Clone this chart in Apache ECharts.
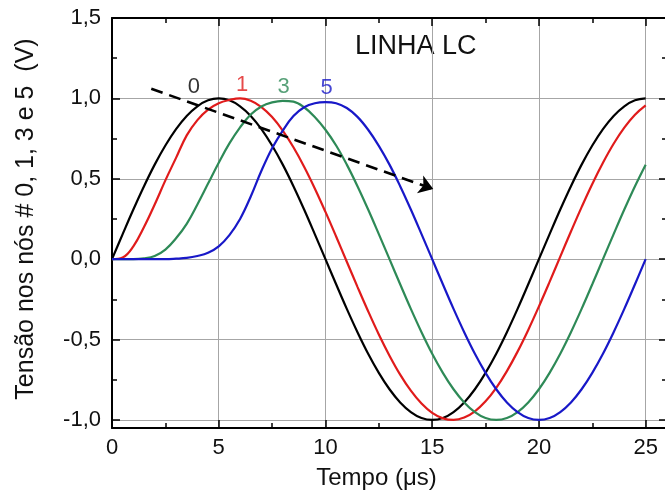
<!DOCTYPE html>
<html>
<head>
<meta charset="utf-8">
<script src="https://cdn.jsdelivr.net/npm/echarts@6/dist/echarts.min.js"></script>
<style>
  html, body { margin: 0; padding: 0; background: #ffffff; overflow: hidden; }
  #chart { width: 665px; height: 497px; }
</style>
</head>
<body>
<div id="chart"></div>
<script>
// Time samples (µs)
const timeUs = [
  0, 0.5, 1, 1.5, 2, 2.5, 3, 3.5, 4, 4.5, 5,
  5.5, 6, 6.5, 7, 7.5, 8, 8.5, 9, 9.5, 10,
  10.5, 11, 11.5, 12, 12.5, 13, 13.5, 14, 14.5, 15,
  15.5, 16, 16.5, 17, 17.5, 18, 18.5, 19, 19.5, 20,
  20.5, 21, 21.5, 22, 22.5, 23, 23.5, 24, 24.5, 25
];

// Node voltages (V) along the LC line
const node0 = [
  0, 0.156, 0.309, 0.454, 0.588, 0.707, 0.809, 0.891, 0.951, 0.988, 1.0,
  0.988, 0.951, 0.891, 0.809, 0.707, 0.588, 0.454, 0.309, 0.156, 0,
  -0.156, -0.309, -0.454, -0.588, -0.707, -0.809, -0.891, -0.951, -0.988, -1.0,
  -0.988, -0.951, -0.891, -0.809, -0.707, -0.588, -0.454, -0.309, -0.156, 0,
  0.156, 0.309, 0.454, 0.588, 0.707, 0.809, 0.891, 0.951, 0.988, 1.0
];
const node1 = [
  0, 0.01, 0.08, 0.20, 0.34, 0.49, 0.63, 0.77, 0.865, 0.93, 0.97,
  0.99, 1.0, 0.985, 0.946, 0.884, 0.80, 0.696, 0.575, 0.44, 0.294,
  0.141, -0.016, -0.172, -0.324, -0.468, -0.60, -0.718, -0.818, -0.898, -0.956,
  -0.99, -1.0, -0.985, -0.946, -0.884, -0.80, -0.696, -0.575, -0.44, -0.294,
  -0.141, 0.016, 0.172, 0.324, 0.468, 0.60, 0.718, 0.818, 0.898, 0.956
];
const node3 = [
  0, 0, 0, 0.005, 0.02, 0.06, 0.13, 0.22, 0.34, 0.47, 0.60,
  0.72, 0.82, 0.90, 0.95, 0.975, 0.985, 0.98, 0.945, 0.885, 0.805,
  0.707, 0.588, 0.454, 0.309, 0.156, 0, -0.156, -0.309, -0.454, -0.588,
  -0.707, -0.809, -0.891, -0.951, -0.988, -1.0, -0.988, -0.951, -0.891, -0.809,
  -0.707, -0.588, -0.454, -0.309, -0.156, 0, 0.156, 0.309, 0.454, 0.588
];
const node5 = [
  0, 0, 0, 0, 0, 0, 0.003, 0.008, 0.02, 0.04, 0.08,
  0.15, 0.25, 0.39, 0.55, 0.69, 0.80, 0.89, 0.945, 0.97, 0.977,
  0.97, 0.94, 0.885, 0.805, 0.705, 0.588, 0.454, 0.309, 0.156, 0,
  -0.156, -0.309, -0.454, -0.588, -0.707, -0.809, -0.891, -0.951, -0.988, -1.0,
  -0.988, -0.951, -0.891, -0.809, -0.707, -0.588, -0.454, -0.309, -0.156, 0
];

// Curve tags and the propagation arrow (data coordinates)
const tagNames = ['0', '1', '3', '5'];
const tagPos = [[3.83, 1.07], [6.09, 1.085], [8.04, 1.07], [10.05, 1.065]];
const arrowFrom = [1.84, 1.06];
const arrowTo = [15.05, 0.436];

const colors = ['#000000', '#e01b1b', '#2e8a57', '#1818c8'];
const FONT = '"Liberation Sans", Arial, sans-serif';

const pairs = (ys) => timeUs.map((t, i) => [t, ys[i]]);

const isMult = (v, step) => Math.abs(v / step - Math.round(v / step)) < 1e-6;

const frameLine = { show: true, onZero: false, lineStyle: { color: '#000', width: 2 } };
const majorTick = { show: true, inside: true, length: 8, lineStyle: { color: '#000', width: 1.5 } };
const minorTick = { show: true, splitNumber: 2, length: 5, lineStyle: { color: '#000', width: 1.5 } };

function xAxisDef(pos, main) {
  return {
    type: 'value', position: pos, min: 0, max: 26, splitNumber: 5,
    axisLine: frameLine, axisTick: majorTick, minorTick: minorTick,
    splitLine: { show: main, lineStyle: { color: '#a6a6a6', width: 1 } },
    axisLabel: main ? {
      show: true, fontSize: 22, fontFamily: FONT, color: '#111', margin: 9,
      formatter: (v) => (isMult(v, 5) ? String(v) : '')
    } : { show: false },
    name: main ? 'Tempo (\u03bcs)' : '',
    nameLocation: 'middle', nameGap: 38,
    nameTextStyle: { fontSize: 24, fontFamily: FONT, color: '#111', padding: [0, 26, 0, 0] }
  };
}
function yAxisDef(pos, main) {
  return {
    type: 'value', position: pos, min: -1.05, max: 1.5, splitNumber: 5,
    axisLine: frameLine, axisTick: majorTick, minorTick: minorTick,
    splitLine: { show: main, lineStyle: { color: '#a6a6a6', width: 1 } },
    axisLabel: main ? {
      show: true, fontSize: 22, fontFamily: FONT, color: '#111', margin: 11,
      formatter: (v) => (isMult(v, 0.5) ? v.toFixed(1).replace('.', ',') : '')
    } : { show: false },
    name: main ? 'Tens\u00e3o nos n\u00f3s # 0, 1, 3 e 5  (V)' : '',
    nameLocation: 'middle', nameGap: 73,
    nameTextStyle: { fontSize: 25, fontFamily: FONT, color: '#111', padding: [0, 0, 0, 8] }
  };
}

function lineSeries(ys, color, extra) {
  return Object.assign({
    type: 'line', data: pairs(ys), showSymbol: false, smooth: 0.4,
    lineStyle: { color: color, width: 2.2 }, itemStyle: { color: color },
    silent: true, animation: false, z: 3
  }, extra || {});
}

const chart = echarts.init(document.getElementById('chart'), null, { renderer: 'canvas' });
chart.setOption({
  animation: false,
  backgroundColor: '#ffffff',
  grid: {
    left: 112, top: 18, width: 555, height: 410,
    containLabel: false, outerBoundsMode: 'none'
  },
  xAxis: [xAxisDef('bottom', true), xAxisDef('top', false)],
  yAxis: [yAxisDef('left', true), yAxisDef('right', false)],
  series: [
    lineSeries(node0, colors[0], {
      markLine: {
        silent: true, animation: false,
        symbol: ['none', 'arrow'], symbolSize: 14,
        label: { show: false },
        lineStyle: { color: '#000', width: 2.6, type: [12, 7] },
        data: [[{ coord: arrowFrom }, { coord: arrowTo }]]
      }
    }),
    lineSeries(node1, colors[1]),
    lineSeries(node3, colors[2]),
    lineSeries(node5, colors[3]),
    {
      type: 'scatter', silent: true, animation: false, symbolSize: 1,
      itemStyle: { color: 'rgba(0,0,0,0)' },
      label: { show: true, position: 'inside', fontSize: 22, fontFamily: FONT, formatter: '{b}' },
      data: tagNames.map((n, i) => ({ name: n, value: tagPos[i], label: { color: colors[i] } })),
      z: 5
    }
  ],
  graphic: [{
    type: 'text', left: 355, top: 33, silent: true,
    style: { text: 'LINHA LC', fontSize: 27, fontFamily: FONT, fill: '#111' }
  }]
});
</script>
</body>
</html>
